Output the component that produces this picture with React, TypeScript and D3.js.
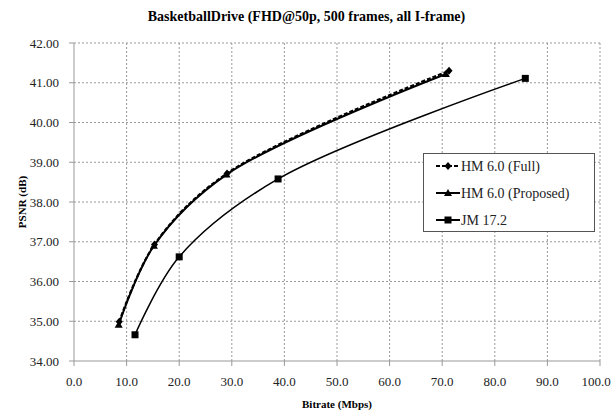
import React from "react";
import * as d3 from "d3";

// bitrate (Mbps) and PSNR (dB)
const hmFullRate = [8.6, 15.3, 29.1, 71.3];
const hmFullPsnr = [34.99, 36.93, 38.72, 41.3];
const hmPropRate = [8.5, 15.2, 29.0, 70.7];
const hmPropPsnr = [34.91, 36.9, 38.69, 41.22];
const jmRate = [11.6, 20.0, 38.8, 85.8];
const jmPsnr = [34.66, 36.62, 38.58, 41.11];

const xTicks = [0, 10, 20, 30, 40, 50, 60, 70, 80, 90, 100];
const yTicks = [34, 35, 36, 37, 38, 39, 40, 41, 42];
const seriesNames = ["HM 6.0 (Full)", "HM 6.0 (Proposed)", "JM 17.2"];

const W = 613;
const H = 412;
const FONT = "'Liberation Serif', 'Times New Roman', serif";

const App = () => {
  const x = d3.scaleLinear().domain([0, 100]).range([74, 600]);
  const y = d3.scaleLinear().domain([34, 42]).range([361, 43]);

  const line = d3
    .line<[number, number]>()
    .x((d) => x(d[0]))
    .y((d) => y(d[1]))
    .curve(d3.curveCatmullRom.alpha(0.5));

  const zip = (a: number[], b: number[]) => a.map((v, i) => [v, b[i]] as [number, number]);

  const series = [
    { name: seriesNames[0], pts: zip(hmFullRate, hmFullPsnr), dash: "4,2", width: 2.2, marker: "diamond" },
    { name: seriesNames[1], pts: zip(hmPropRate, hmPropPsnr), dash: null, width: 2, marker: "triangle" },
    { name: seriesNames[2], pts: zip(jmRate, jmPsnr), dash: null, width: 1.5, marker: "square" },
  ];

  const marker = (type: string, cx: number, cy: number, key: string | number) => {
    if (type === "square") return <rect key={key} x={cx - 3.5} y={cy - 3.5} width={7} height={7} fill="#000" />;
    if (type === "diamond")
      return <path key={key} d={`M${cx},${cy - 4}L${cx + 3.5},${cy}L${cx},${cy + 4}L${cx - 3.5},${cy}Z`} fill="#000" />;
    return <path key={key} d={`M${cx},${cy - 4}L${cx + 4},${cy + 3}L${cx - 4},${cy + 3}Z`} fill="#000" />;
  };

  const [x0, x1] = x.range();
  const [y0, y1] = y.range();

  return (
    <svg width={W} height={H} style={{ position: "absolute", left: 0, top: 0, background: "#fff", fontFamily: FONT }}>
      <text x={W / 2} y={21} textAnchor="middle" fontSize={14} fontWeight="bold">
        BasketballDrive (FHD@50p, 500 frames, all I-frame)
      </text>

      {/* grid */}
      {xTicks.slice(1).map((t) => (
        <line key={"gx" + t} x1={x(t)} x2={x(t)} y1={y0} y2={y1} stroke="#999" strokeDasharray="2,2" strokeWidth={1} />
      ))}
      {yTicks.slice(1).map((t) => (
        <line key={"gy" + t} x1={x0} x2={x1} y1={y(t)} y2={y(t)} stroke="#999" strokeDasharray="2,2" strokeWidth={1} />
      ))}

      {/* axes */}
      <line x1={x0} x2={x0} y1={y0} y2={y1} stroke="#999" />
      <line x1={x0} x2={x1} y1={y0} y2={y0} stroke="#999" />
      {yTicks.map((t) => (
        <g key={"yt" + t}>
          <line x1={x0 - 5} x2={x0} y1={y(t)} y2={y(t)} stroke="#999" />
          <text x={x0 - 15} y={y(t) + 4.5} textAnchor="end" fontSize={13} fill="#222">
            {t.toFixed(2)}
          </text>
        </g>
      ))}
      {xTicks.map((t) => (
        <g key={"xt" + t}>
          <line x1={x(t)} x2={x(t)} y1={y0} y2={y0 + 5} stroke="#999" />
          <text x={Math.min(x(t), 596)} y={y0 + 25} textAnchor="middle" fontSize={13} fill="#222">
            {t.toFixed(1)}
          </text>
        </g>
      ))}
      <text x={(x0 + x1) / 2} y={408} textAnchor="middle" fontSize={11} fontWeight="bold">
        Bitrate (Mbps)
      </text>
      <text transform={`translate(26,${(y0 + y1) / 2}) rotate(-90)`} textAnchor="middle" fontSize={11} fontWeight="bold">
        PSNR (dB)
      </text>

      {/* series */}
      {series.map((s) => (
        <g key={s.name}>
          <path d={line(s.pts) || ""} fill="none" stroke="#000" strokeWidth={s.width} strokeDasharray={s.dash || undefined} />
          {s.pts.map((p, i) => marker(s.marker, x(p[0]), y(p[1]), i))}
        </g>
      ))}

      {/* legend */}
      <rect x={423.5} y={153.5} width={171} height={78} fill="#fff" stroke="#555" />
      {series.map((s, i) => {
        const ly = 166 + i * 27;
        return (
          <g key={"lg" + s.name}>
            <line x1={436} x2={460} y1={ly} y2={ly} stroke="#000" strokeWidth={2} strokeDasharray={s.dash || undefined} />
            {marker(s.marker, 448, ly, "m")}
            <text x={461} y={ly + 5} fontSize={14} fill="#222">
              {s.name}
            </text>
          </g>
        );
      })}
    </svg>
  );
};

export default App;
